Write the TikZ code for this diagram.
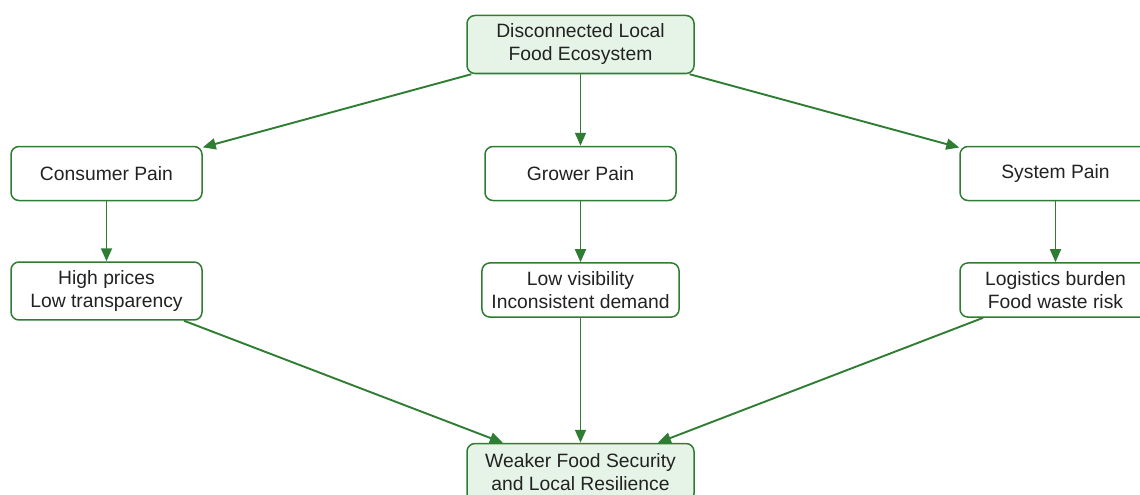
\documentclass[tikz,border=0pt]{standalone}
\usepackage{fontspec}
\setmainfont{Liberation Sans}
\usetikzlibrary{arrows.meta}
\definecolor{edgegreen}{HTML}{2E7D32}
\definecolor{softgreen}{HTML}{E6F4E7}
\definecolor{inktext}{HTML}{222222}
\begin{document}
\begin{tikzpicture}[x=1pt,y=1pt,
  box/.style={draw=edgegreen, line width=1.5pt, rounded corners=8pt, fill=white,
    text=inktext, align=center, minimum width=191pt, minimum height=54pt,
    inner xsep=9.5pt, inner ysep=8.5pt,
    font=\fontsize{19.3}{23}\selectfont},
  keybox/.style={box, fill=softgreen, minimum width=227pt, minimum height=58pt},
  flow/.style={draw=edgegreen, line width=1.9pt, -{Triangle[length=13pt,width=11pt]}}]
  \useasboundingbox (0,0) rectangle (1140,-495);

  \node[keybox] (root) at (580.5,-44.5) {Disconnected Local\\Food Ecosystem};

  \node[box] (cons) at (106.5,-173.5) {Consumer Pain};
  \node[box] (grow) at (580.5,-173.5) {Grower Pain};
  \node[box] (sys)  at (1055.5,-173.5) {System Pain};

  \node[box] (cdet) at (106.5,-291) {High prices\\Low transparency};
  \node[box] (gdet) at (580.5,-290) {Low visibility\\Inconsistent demand};
  \node[box] (sdet) at (1055.5,-290) {Logistics burden\\Food waste risk};

  \node[keybox] (out) at (580.5,-472.5) {Weaker Food Security\\and Local Resilience};

  \draw[flow] (root) -- (cons);
  \draw[flow] (root) -- (grow);
  \draw[flow] (root) -- (sys);
  \draw[flow] (cons) -- (cdet);
  \draw[flow] (grow) -- (gdet);
  \draw[flow] (sys) -- (sdet);
  \draw[flow] (cdet) -- (out);
  \draw[flow] (gdet) -- (out);
  \draw[flow] (sdet) -- (out);
\end{tikzpicture}
\end{document}
